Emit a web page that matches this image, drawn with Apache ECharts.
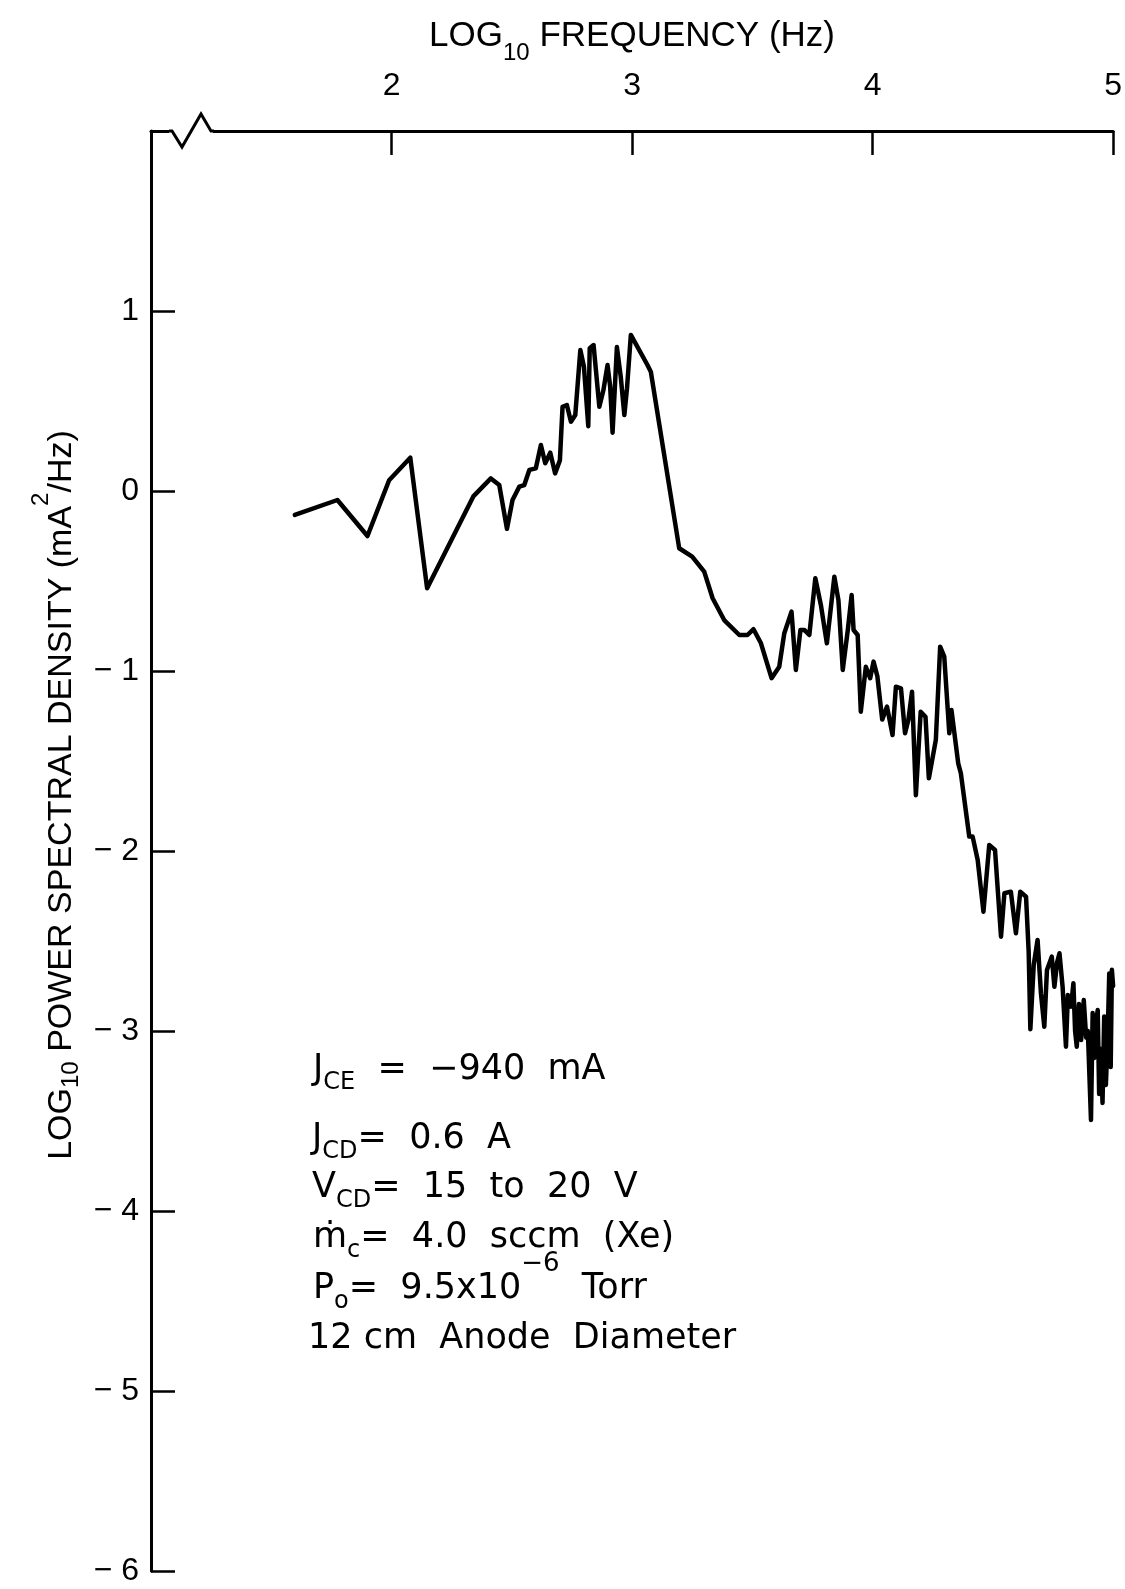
<!DOCTYPE html>
<html>
<head>
<meta charset="utf-8">
<script src="https://cdn.jsdelivr.net/npm/echarts@6/dist/echarts.min.js"></script>
<style>
  html, body { margin: 0; padding: 0; background: #fff; }
  #main { width: 1125px; height: 1589px; }
</style>
</head>
<body>
<div id="main"></div>
<script>
// log10 frequency (Hz) and log10 PSD (mA^2/Hz)
var logFreq = [
  1.598, 1.775, 1.90, 1.99, 2.078, 2.148, 2.34, 2.413, 2.448, 2.48,
  2.503, 2.531, 2.552, 2.573, 2.60, 2.621, 2.639, 2.66, 2.68, 2.70,
  2.711, 2.729, 2.746, 2.764, 2.785, 2.80, 2.818, 2.824, 2.84, 2.864,
  2.881, 2.898, 2.909, 2.919, 2.937, 2.953, 2.968, 2.979, 2.995, 3.064,
  3.078, 3.196, 3.25, 3.30, 3.335, 3.383, 3.446, 3.48, 3.505, 3.536,
  3.58, 3.612, 3.633, 3.663, 3.681, 3.70, 3.716, 3.737, 3.762, 3.785,
  3.81, 3.841, 3.858, 3.876, 3.897, 3.913, 3.921, 3.938, 3.951, 3.972,
  3.99, 4.004, 4.02, 4.04, 4.06, 4.083, 4.097, 4.118, 4.135, 4.149,
  4.164, 4.18, 4.20, 4.22, 4.234, 4.263, 4.281, 4.298, 4.319, 4.328,
  4.356, 4.367, 4.388, 4.402, 4.416, 4.437, 4.461, 4.485, 4.509, 4.534,
  4.548, 4.575, 4.596, 4.614, 4.638, 4.649, 4.656, 4.67, 4.686, 4.70,
  4.714, 4.725, 4.745, 4.756, 4.767, 4.777, 4.79, 4.804, 4.812, 4.825,
  4.835, 4.842, 4.849, 4.858, 4.867, 4.878, 4.888, 4.895, 4.908, 4.915,
  4.922, 4.93, 4.936, 4.942, 4.949, 4.956, 4.963, 4.97, 4.977, 4.984,
  4.99, 4.995, 5.0
];
var logPsd = [
  -0.133, -0.05, -0.25, 0.06, 0.185, -0.54, -0.03, 0.07, 0.033, -0.21,
  -0.05, 0.024, 0.033, 0.117, 0.126, 0.256, 0.154, 0.213, 0.098, 0.17,
  0.468, 0.478, 0.385, 0.422, 0.783, 0.69, 0.36, 0.793, 0.811, 0.468,
  0.561, 0.70, 0.58, 0.324, 0.80, 0.635, 0.422, 0.57, 0.867, 0.70,
  0.663, -0.318, -0.365, -0.448, -0.596, -0.717, -0.80, -0.80, -0.768, -0.846,
  -1.04, -0.976, -0.79, -0.67, -0.994, -0.772, -0.772, -0.80, -0.485, -0.633,
  -0.846, -0.476, -0.606, -0.994, -0.772, -0.578, -0.772, -0.80, -1.226, -0.976,
  -1.04, -0.948, -1.03, -1.27, -1.198, -1.356, -1.087, -1.096, -1.346, -1.27,
  -1.115, -1.69, -1.226, -1.254, -1.596, -1.383, -0.865, -0.92, -1.346, -1.217,
  -1.513, -1.568, -1.78, -1.92, -1.92, -2.05, -2.337, -1.967, -1.994, -2.476,
  -2.235, -2.226, -2.457, -2.226, -2.254, -2.56, -2.99, -2.633, -2.494, -2.79,
  -2.976, -2.661, -2.587, -2.754, -2.62, -2.568, -2.754, -3.087, -2.80, -2.865,
  -2.735, -3.0, -3.087, -2.85, -3.05, -2.828, -3.037, -3.0, -3.494, -2.90,
  -3.15, -2.95, -2.883, -3.35, -3.1, -3.40, -2.92, -3.3, -3.05, -2.68,
  -3.2, -2.66, -2.75
];
var xLabelValues = [2, 3, 4, 5];
var yLabelValues = [1, 0, -1, -2, -3, -4, -5, -6];

var axisFont = "'Liberation Sans', Arial, sans-serif";
var noteFont = "'DejaVu Sans', sans-serif";

var chart = echarts.init(document.getElementById('main'));

var option = {
  animation: false,
  backgroundColor: '#fff',
  grid: { left: 151, right: 10, top: 131, bottom: 18 },
  xAxis: {
    type: 'value',
    position: 'top',
    min: 1, max: 5, interval: 1,
    name: '{m|LOG}{s|10}{m| FREQUENCY (Hz)}',
    nameLocation: 'middle',
    nameGap: 74,
    nameTextStyle: {
      rich: {
        m: { fontFamily: axisFont, fontSize: 35, lineHeight: 35, color: '#000', verticalAlign: 'top' },
        s: { fontFamily: axisFont, fontSize: 24, lineHeight: 24, color: '#000', verticalAlign: 'top', padding: [22, 0, 0, 0] }
      }
    },
    axisLine: { onZero: false, lineStyle: { color: '#000', width: 3 } },
    axisTick: { inside: true, length: 24, lineStyle: { color: '#000', width: 2.5 } },
    axisLabel: {
      margin: 29, color: '#000', fontFamily: axisFont, fontSize: 32,
      formatter: function (v) { return xLabelValues.indexOf(v) >= 0 ? String(v) : ''; }
    },
    splitLine: { show: false }
  },
  yAxis: {
    type: 'value',
    min: -6, max: 2, interval: 1,
    axisLine: { onZero: false, lineStyle: { color: '#000', width: 3 } },
    axisTick: { inside: true, length: 24, lineStyle: { color: '#000', width: 2.5 } },
    axisLabel: {
      margin: 12, color: '#000', fontFamily: axisFont, fontSize: 32,
      formatter: function (v) {
        if (yLabelValues.indexOf(v) < 0) return '';
        return v < 0 ? '\u2212 ' + (-v) : String(v);
      }
    },
    splitLine: { show: false }
  },
  series: [{
    type: 'line',
    data: logFreq.map(function (f, i) { return [f, logPsd[i]]; }),
    symbol: 'none',
    lineStyle: { color: '#000', width: 4.5, join: 'round', cap: 'round' }
  }]
};
chart.setOption(option);

// axis break on the top axis, y-axis title and run conditions
var corner = chart.convertToPixel({ gridIndex: 0 }, [1, 2]);
var cx = corner[0], cy = corner[1];

var mainTxt = { fontFamily: noteFont, fontSize: 35, lineHeight: 35, color: '#000', verticalAlign: 'top' };
var subTxt = { fontFamily: noteFont, fontSize: 24, lineHeight: 24, color: '#000', verticalAlign: 'top', padding: [19, 0, 0, 0] };
var mainP = { fontFamily: noteFont, fontSize: 35, lineHeight: 35, color: '#000', verticalAlign: 'top', padding: [20, 0, 0, 0] };
var subP = { fontFamily: noteFont, fontSize: 24, lineHeight: 24, color: '#000', verticalAlign: 'top', padding: [39, 0, 0, 0] };
var supP = { fontFamily: noteFont, fontSize: 26, lineHeight: 26, color: '#000', verticalAlign: 'top', padding: [0, 0, 0, 0] };
var noteRich = { m: mainTxt, s: subTxt, mp: mainP, sp: subP, up: supP };

function note(x, y, text) {
  return { type: 'text', x: x, y: y, silent: true, style: { text: text, rich: noteRich } };
}

chart.setOption({
  graphic: [
    { type: 'rect', shape: { x: cx + 18, y: cy - 4, width: 44, height: 8 }, style: { fill: '#fff' }, silent: true, z: 10 },
    {
      type: 'polyline', silent: true, z: 11,
      shape: { points: [[cx + 18, cy], [cx + 21, cy], [cx + 31, cy + 16], [cx + 50, cy - 17], [cx + 60, cy], [cx + 63, cy]] },
      style: { stroke: '#000', lineWidth: 3, fill: null }
    },
    {
      type: 'text', x: 46, y: 795, rotation: Math.PI / 2, silent: true,
      style: {
        text: '{m|LOG}{s|10}{m| POWER SPECTRAL DENSITY (mA}{u|2}{m|/Hz)}',
        align: 'center', verticalAlign: 'middle',
        rich: {
          m: { fontFamily: axisFont, fontSize: 34, lineHeight: 34, color: '#000', verticalAlign: 'top', padding: [16, 0, 0, 0] },
          s: { fontFamily: axisFont, fontSize: 24, lineHeight: 24, color: '#000', verticalAlign: 'top', padding: [30, 0, 0, 0] },
          u: { fontFamily: axisFont, fontSize: 24, lineHeight: 24, color: '#000', verticalAlign: 'top', padding: [0, 0, 0, 0] }
        }
      }
    },
    note(313, 1052, '{m|J}{s|CE}{m|  =  \u2212940  mA}'),
    note(312, 1121, '{m|J}{s|CD}{m|=  0.6  A}'),
    note(312, 1170, '{m|V}{s|CD}{m|=  15  to  20  V}'),
    note(313, 1220, '{m|\u1e41}{s|c}{m|=  4.0  sccm  (Xe)}'),
    note(313, 1251, '{mp|P}{sp|o}{mp|=  9.5x10}{up|\u22126}{mp|  Torr}'),
    note(308, 1321, '{m|12 cm  Anode  Diameter}')
  ]
});
</script>
</body>
</html>
